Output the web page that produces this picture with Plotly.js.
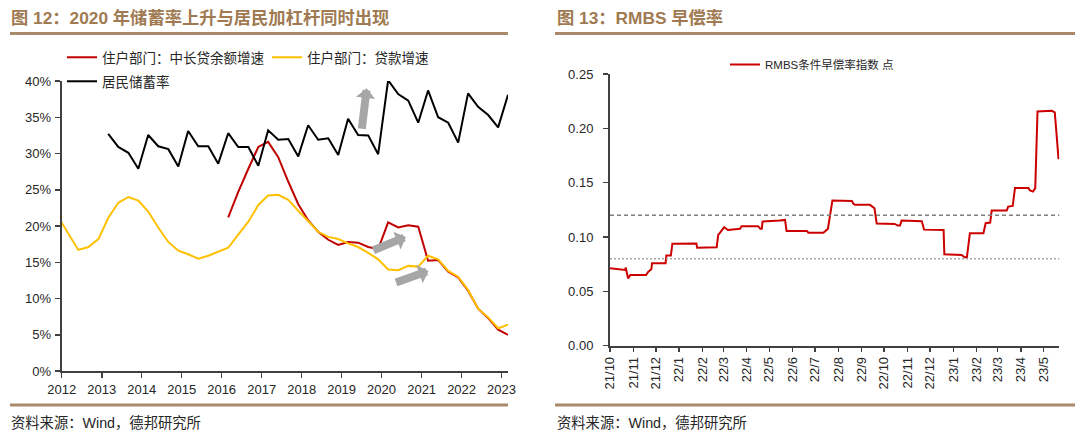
<!DOCTYPE html>
<html>
<head>
<meta charset="utf-8">
<script src="https://cdn.plot.ly/plotly-3.0.1.min.js"></script>
<style>html,body{margin:0;padding:0;background:#fff;}#chart{width:1080px;height:441px;}</style>
</head>
<body>
<div id="chart"></div>
<script>
// ---------- Figure 12 data (quarterly, %) ----------
const loanDates = ['2011-12','2012-03','2012-06','2012-09','2012-12','2013-03','2013-06','2013-09','2013-12',
  '2014-03','2014-06','2014-09','2014-12','2015-03','2015-06','2015-09','2015-12','2016-03','2016-06','2016-09','2016-12',
  '2017-03','2017-06','2017-09','2017-12','2018-03','2018-06','2018-09','2018-12','2019-03','2019-06','2019-09','2019-12',
  '2020-03','2020-06','2020-09','2020-12','2021-03','2021-06','2021-09','2021-12','2022-03','2022-06','2022-09','2022-12','2023-03'];
const loanGrowth = [21.2,19.0,16.7,17.1,18.2,21.1,23.2,24.0,23.5,
  22.0,19.8,17.8,16.6,16.1,15.5,15.9,16.4,17.0,18.8,20.6,22.9,
  24.2,24.3,23.6,22.1,20.6,19.2,18.5,18.2,17.6,17.1,16.3,15.4,
  14.0,13.9,14.5,14.4,15.9,15.4,13.8,13.0,11.2,8.6,7.4,5.9,6.4];

const longLoanDates = ['2016-03','2016-06','2016-09','2016-12','2017-03','2017-06','2017-09','2017-12',
  '2018-03','2018-06','2018-09','2018-12','2019-03','2019-06','2019-09','2019-12',
  '2020-03','2020-06','2020-09','2020-12','2021-03','2021-06','2021-09','2021-12',
  '2022-03','2022-06','2022-09','2022-12','2023-03'];
const longLoanGrowth = [21.2,24.7,27.9,30.9,31.6,29.5,26.1,23.0,
  20.8,19.2,18.1,17.4,17.8,17.7,17.1,16.8,
  20.5,19.8,20.1,19.9,15.2,15.3,13.7,12.9,
  11.1,8.6,7.3,5.7,5.0];

const savingDates = ['2013-03','2013-06','2013-09','2013-12','2014-03','2014-06','2014-09','2014-12',
  '2015-03','2015-06','2015-09','2015-12','2016-03','2016-06','2016-09','2016-12',
  '2017-03','2017-06','2017-09','2017-12','2018-03','2018-06','2018-09','2018-12',
  '2019-03','2019-06','2019-09','2019-12','2020-03','2020-06','2020-09','2020-12',
  '2021-03','2021-06','2021-09','2021-12','2022-03','2022-06','2022-09','2022-12','2023-03'];
const savingRate = [32.7,30.9,30.1,27.9,32.55,31.0,30.6,28.2,
  33.1,31.0,31.0,28.6,32.8,30.9,30.9,28.3,
  33.2,31.9,32.0,29.6,33.9,31.9,32.1,29.8,
  34.8,32.55,32.5,29.9,40.1,38.2,37.3,34.25,
  38.7,35.0,34.25,31.5,38.3,36.45,35.3,33.6,38.1];

// ---------- Figure 13 data ----------
const rmbsDates = ['2021-10-01','2021-10-14','2021-10-18','2021-10-21','2021-10-22','2021-10-25','2021-10-28',
  '2021-11-18','2021-11-21','2021-11-25','2021-11-26','2021-12-14','2021-12-15','2021-12-21','2021-12-23',
  '2022-01-24','2022-01-25','2022-02-20','2022-02-22','2022-02-24','2022-03-02','2022-03-07','2022-03-23','2022-03-25',
  '2022-04-16','2022-04-19','2022-04-21','2022-04-22','2022-05-15','2022-05-22','2022-05-24','2022-06-20','2022-06-22',
  '2022-07-12','2022-07-18','2022-07-24','2022-08-19','2022-08-21','2022-08-23','2022-09-12','2022-09-18','2022-09-21',
  '2022-10-15','2022-10-19','2022-10-22','2022-10-24','2022-11-20','2022-11-23','2022-12-19','2022-12-20',
  '2023-01-12','2023-01-16','2023-01-19','2023-01-23','2023-02-10','2023-02-13','2023-02-19','2023-02-21',
  '2023-03-13','2023-03-15','2023-03-21','2023-03-24','2023-04-11','2023-04-13','2023-04-17','2023-04-20',
  '2023-04-23','2023-05-12','2023-05-16','2023-05-18','2023-05-21'];
const rmbsIndex = [0.0713,0.0706,0.0697,0.0697,0.0718,0.0620,0.0650,
  0.0650,0.0680,0.0703,0.0759,0.0759,0.0829,0.0829,0.0939,
  0.0940,0.0902,0.0905,0.1020,0.1035,0.1090,0.1065,0.1075,0.1100,
  0.1100,0.1077,0.1077,0.1142,0.1151,0.1157,0.1056,0.1056,0.1040,
  0.1040,0.1075,0.1335,0.1332,0.1305,0.1296,0.1296,0.1265,0.1125,
  0.1120,0.1105,0.1105,0.1151,0.1145,0.1068,0.1065,0.0842,
  0.0835,0.0814,0.0814,0.1035,0.1035,0.1127,0.1133,0.1243,
  0.1243,0.1280,0.1286,0.1450,0.1450,0.1428,0.1418,0.1450,
  0.2155,0.2161,0.2146,0.1956,0.1716];
const thresholds = [0.12, 0.08];

// ---------- texts ----------
const title12 = '图 12：2020 年储蓄率上升与居民加杠杆同时出现';
const title13 = '图 13：RMBS 早偿率';
const sourceText = '资料来源：Wind，德邦研究所';
const seriesNames = ['住户部门：中长贷余额增速','住户部门：贷款增速','居民储蓄率','RMBS条件早偿率指数 点'];

const W = 1080, H = 441;
const px = v => v / W;
const py = v => 1 - v / H;

const numFont = 'Liberation Sans, Arial, sans-serif';
const cjkFont = 'Liberation Sans, Noto Sans CJK SC, sans-serif';
const brown = '#a07a52';
const ruleColor = '#a88a6b';
const axisColor = '#404040';

const traces = [
  {x: longLoanDates, y: longLoanGrowth, name: seriesNames[0], type: 'scatter', mode: 'lines',
   line: {color: '#c00000', width: 2}, xaxis: 'x', yaxis: 'y', legend: 'legend'},
  {x: loanDates, y: loanGrowth, name: seriesNames[1], type: 'scatter', mode: 'lines',
   line: {color: '#ffc000', width: 2}, xaxis: 'x', yaxis: 'y', legend: 'legend'},
  {x: savingDates, y: savingRate, name: seriesNames[2], type: 'scatter', mode: 'lines',
   line: {color: '#000000', width: 2}, xaxis: 'x', yaxis: 'y', legend: 'legend2'},
  {x: rmbsDates, y: rmbsIndex, name: seriesNames[3], type: 'scatter', mode: 'lines',
   line: {color: '#cc0000', width: 2}, xaxis: 'x2', yaxis: 'y2', legend: 'legend3'}
];

const axisCommon = {
  showline: true, linecolor: axisColor, linewidth: 2, ticks: 'outside', ticklen: 5,
  tickwidth: 1.5, tickcolor: axisColor, showgrid: false, zeroline: false,
  tickfont: {family: numFont, size: 13, color: '#262626'}
};

const arrowStyle = {text: '', showarrow: true, arrowhead: 1, arrowsize: 0.4, arrowwidth: 8,
  arrowcolor: '#a6a6a6', xref: 'x', yref: 'y', axref: 'pixel', ayref: 'pixel'};

const layout = {
  width: W, height: H, margin: {l: 0, r: 0, t: 0, b: 0},
  paper_bgcolor: '#ffffff', plot_bgcolor: '#ffffff',
  showlegend: true,
  xaxis: Object.assign({}, axisCommon, {
    type: 'date', domain: [px(61.7), px(508)], anchor: 'y',
    range: ['2012-01-01', '2023-03-01'], tick0: '2012-01-01', dtick: 'M12', tickformat: '%Y',
    ticklabelstandoff: 0
  }),
  yaxis: Object.assign({}, axisCommon, {
    domain: [py(371), py(81)], anchor: 'x', range: [0, 40], dtick: 5, ticksuffix: '%',
    ticklabelstandoff: 1
  }),
  xaxis2: Object.assign({}, axisCommon, {
    type: 'date', domain: [px(610), px(1059.3)], anchor: 'y2',
    range: ['2021-10-01', '2023-05-22'], tick0: '2021-10-01', dtick: 'M1', tickformat: '%y/%-m',
    tickangle: -90, ticklen: 4
  }),
  yaxis2: Object.assign({}, axisCommon, {
    domain: [py(345.7), py(74)], anchor: 'x2', range: [0, 0.25], dtick: 0.05, tickformat: '.2f',
    ticklabelstandoff: 7
  }),
  legend: {orientation: 'h', x: px(62), y: py(42), xanchor: 'left', yanchor: 'top',
    entrywidth: 160, entrywidthmode: 'pixels', bgcolor: 'rgba(0,0,0,0)',
    font: {family: cjkFont, size: 13.5, color: '#262626'}, traceorder: 'normal'},
  legend2: {orientation: 'h', x: px(62), y: py(66), xanchor: 'left', yanchor: 'top',
    bgcolor: 'rgba(0,0,0,0)', font: {family: cjkFont, size: 13.5, color: '#262626'}},
  legend3: {orientation: 'h', x: px(725), y: py(50), xanchor: 'left', yanchor: 'top',
    bgcolor: 'rgba(0,0,0,0)', font: {family: cjkFont, size: 11.5, color: '#262626'}},
  shapes: [
    {type: 'line', xref: 'paper', yref: 'paper', x0: px(10), x1: px(508), y0: py(33.5), y1: py(33.5), line: {color: ruleColor, width: 3}},
    {type: 'line', xref: 'paper', yref: 'paper', x0: px(555), x1: px(1075), y0: py(33.5), y1: py(33.5), line: {color: ruleColor, width: 3}},
    {type: 'line', xref: 'paper', yref: 'paper', x0: px(10), x1: px(508), y0: py(405), y1: py(405), line: {color: ruleColor, width: 3}},
    {type: 'line', xref: 'paper', yref: 'paper', x0: px(555), x1: px(1075), y0: py(405), y1: py(405), line: {color: ruleColor, width: 3}},
    {type: 'line', xref: 'x2 domain', yref: 'y2', x0: 0, x1: 1, y0: thresholds[0], y1: thresholds[0], line: {color: '#7f7f7f', width: 1.5, dash: '4px,3px'}},
    {type: 'line', xref: 'x2 domain', yref: 'y2', x0: 0, x1: 1, y0: thresholds[1], y1: thresholds[1], line: {color: '#a6a6a6', width: 1.5, dash: '2px,2px'}}
  ],
  annotations: [
    {xref: 'paper', yref: 'paper', x: px(9), y: py(18), xanchor: 'left', yanchor: 'middle', showarrow: false,
     text: '<b>' + title12 + '</b>', font: {family: cjkFont, size: 17.3, color: brown}},
    {xref: 'paper', yref: 'paper', x: px(555), y: py(18), xanchor: 'left', yanchor: 'middle', showarrow: false,
     text: '<b>' + title13 + '</b>', font: {family: cjkFont, size: 17.3, color: brown}},
    {xref: 'paper', yref: 'paper', x: px(9), y: py(423), xanchor: 'left', yanchor: 'middle', showarrow: false,
     text: sourceText, font: {family: cjkFont, size: 14.3, color: '#262626'}},
    {xref: 'paper', yref: 'paper', x: px(555), y: py(423), xanchor: 'left', yanchor: 'middle', showarrow: false,
     text: sourceText, font: {family: cjkFont, size: 14.3, color: '#262626'}},
    Object.assign({}, arrowStyle, {x: '2019-08-18', y: 39.0, ax: -5, ay: 42}),
    Object.assign({}, arrowStyle, {x: '2020-08-10', y: 18.5, ax: -34, ay: 14}),
    Object.assign({}, arrowStyle, {x: '2021-03-05', y: 13.8, ax: -34, ay: 12})
  ]
};

Plotly.newPlot('chart', traces, layout, {staticPlot: true, displayModeBar: false});
</script>
</body>
</html>
